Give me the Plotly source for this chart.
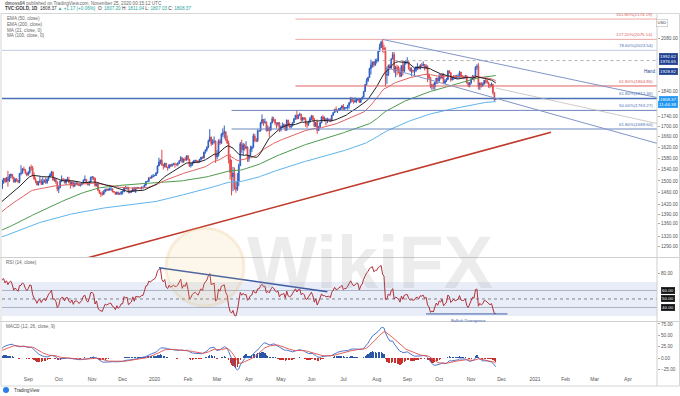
import math
import numpy as np
import pandas as pd
import plotly.graph_objects as go

# ---------------- TVC:GOLD daily data ----------------
# warm-up closes (left of the visible window, feed the indicators only)
close_2019_01 = [1284,1294,1285,1289,1286,1292,1294,1287,1290,1291,1294,1292,1292,1282,1280,1284,1281,1282,1298,1303,1312,1319,1321]
close_2019_02 = [1318,1312,1314,1306,1310,1309,1312,1316,1314,1308,1322,1327,1344,1338,1323,1328,1329,1327,1320,1313]
close_2019_03 = [1294,1286,1287,1285,1298,1298,1291,1296,1310,1308,1302,1302,1306,1306,1304,1307,1322,1314,1310,1296,1292]
close_2019_04 = [1286,1290,1292,1291,1292,1297,1303,1306,1309,1293,1289,1287,1277,1274,1275,1273,1270,1276,1280,1286,1280,1284]
close_2019_05 = [1274,1270,1279,1280,1284,1281,1285,1283,1287,1300,1297,1296,1286,1277,1277,1276,1274,1282,1284,1283,1279,1280,1305]
close_2019_06 = [1327,1324,1333,1340,1341,1328,1326,1334,1338,1341,1344,1346,1344,1360,1396,1400,1418,1409,1412,1409]
close_2019_07 = [1385,1417,1418,1416,1400,1397,1390,1419,1403,1415,1415,1409,1426,1446,1426,1424,1423,1426,1414,1419,1426,1431,1413]

# visible period: close / high / low
close_2019_08 = [1445,1440,1464,1474,1502,1509,1497,1511,1500,1517,1523,1513,1496,1507,1502,1497,1526,1527,1542,1538,1527,1520]
high_2019_08 = [1446,1449,1474,1475,1502,1509,1507,1514,1535,1524,1525,1524,1513,1508,1509,1503,1527,1555,1545,1550,1541,1530]
low_2019_08 = [1400,1432,1439,1456,1473,1490,1493,1496,1480,1496,1509,1507,1494,1495,1497,1492,1492,1519,1525,1536,1523,1516]
close_2019_09 = [1529,1547,1546,1519,1506,1499,1486,1497,1499,1488,1498,1501,1494,1506,1516,1522,1531,1504,1505,1497,1472]
high_2019_09 = [1534,1551,1557,1552,1530,1512,1500,1500,1516,1507,1512,1506,1512,1508,1517,1527,1535,1533,1511,1509,1497]
low_2019_09 = [1519,1525,1536,1515,1506,1492,1485,1484,1493,1486,1491,1493,1490,1490,1500,1512,1517,1500,1497,1490,1465]
close_2019_10 = [1478,1499,1506,1505,1494,1505,1505,1494,1489,1497,1482,1491,1492,1490,1484,1488,1492,1503,1505,1493,1488,1496,1513]
high_2019_10 = [1482,1501,1519,1510,1507,1507,1514,1514,1502,1497,1497,1495,1499,1495,1493,1492,1495,1505,1519,1506,1496,1500,1514]
low_2019_10 = [1459,1475,1496,1501,1491,1486,1498,1491,1474,1482,1477,1480,1485,1484,1482,1481,1485,1490,1500,1489,1484,1483,1494]
close_2019_11 = [1514,1510,1484,1492,1468,1459,1456,1454,1463,1471,1468,1471,1472,1472,1464,1462,1455,1462,1455,1458,1463]
high_2019_11 = [1516,1514,1511,1494,1495,1470,1463,1465,1469,1474,1474,1475,1477,1479,1475,1466,1462,1463,1463,1459,1465]
low_2019_11 = [1504,1502,1480,1481,1465,1456,1446,1450,1454,1461,1465,1466,1467,1466,1461,1460,1453,1454,1452,1454,1452]
close_2019_12 = [1463,1477,1474,1476,1460,1462,1465,1475,1466,1476,1476,1475,1475,1478,1478,1486,1498,1499,1511,1510,1515,1517]
high_2019_12 = [1468,1479,1484,1481,1480,1466,1469,1478,1480,1478,1480,1479,1478,1481,1481,1488,1499,1500,1512,1515,1520,1524]
low_2019_12 = [1454,1462,1471,1471,1458,1458,1460,1462,1463,1459,1472,1474,1472,1471,1473,1477,1483,1497,1496,1507,1508,1512]
close_2020_01 = [1519,1528,1552,1566,1573,1556,1552,1562,1548,1545,1557,1553,1557,1560,1558,1558,1562,1571,1582,1567,1577,1575,1589]
high_2020_01 = [1521,1530,1555,1582,1575,1611,1560,1564,1563,1550,1558,1557,1561,1563,1565,1561,1565,1573,1588,1583,1579,1584,1590]
low_2020_01 = [1516,1517,1525,1552,1558,1553,1540,1546,1546,1536,1543,1548,1549,1555,1546,1553,1551,1559,1569,1563,1564,1570,1571]
close_2020_02 = [1576,1553,1556,1566,1570,1572,1569,1566,1576,1584,1581,1602,1611,1620,1643,1659,1634,1641,1643,1585]
high_2020_02 = [1592,1578,1563,1568,1574,1575,1574,1572,1578,1585,1587,1604,1612,1624,1649,1689,1660,1651,1661,1646]
low_2020_02 = [1572,1549,1547,1553,1561,1566,1563,1562,1565,1572,1578,1579,1597,1605,1617,1644,1625,1629,1634,1563]
close_2020_03 = [1590,1644,1636,1669,1673,1679,1649,1636,1576,1530,1514,1527,1478,1471,1499,1553,1633,1611,1629,1617,1621,1577]
high_2020_03 = [1610,1650,1652,1674,1692,1703,1680,1665,1645,1595,1575,1549,1547,1498,1527,1561,1640,1649,1637,1634,1643,1624]
low_2020_03 = [1575,1586,1629,1633,1660,1653,1644,1633,1561,1505,1451,1465,1470,1460,1466,1482,1553,1600,1592,1608,1613,1567]
close_2020_04 = [1590,1614,1620,1663,1647,1645,1682,1682,1714,1727,1716,1717,1683,1694,1686,1713,1730,1726,1713,1708,1713,1686]
high_2020_04 = [1592,1626,1626,1672,1671,1655,1689,1684,1718,1747,1729,1731,1719,1704,1698,1717,1739,1737,1729,1716,1717,1717]
low_2020_04 = [1567,1586,1603,1617,1640,1639,1640,1680,1681,1708,1702,1710,1680,1681,1659,1681,1712,1718,1704,1692,1699,1678]
close_2020_05 = [1700,1701,1706,1685,1725,1702,1697,1702,1715,1730,1744,1731,1745,1748,1725,1734,1728,1710,1708,1719,1730]
high_2020_05 = [1702,1715,1711,1709,1726,1723,1715,1705,1717,1732,1745,1765,1746,1754,1748,1737,1737,1735,1716,1722,1737]
low_2020_05 = [1680,1695,1693,1683,1683,1700,1693,1692,1699,1712,1726,1726,1728,1741,1718,1720,1726,1698,1693,1701,1714]
close_2020_06 = [1740,1727,1700,1714,1684,1698,1714,1737,1728,1730,1725,1727,1727,1722,1744,1754,1768,1761,1763,1771,1773,1781]
high_2020_06 = [1745,1745,1733,1717,1727,1702,1718,1740,1745,1738,1733,1734,1731,1732,1745,1757,1769,1779,1767,1773,1775,1785]
low_2020_06 = [1725,1720,1697,1698,1671,1683,1694,1712,1720,1719,1704,1712,1720,1716,1721,1742,1753,1757,1753,1760,1765,1765]
close_2020_07 = [1770,1775,1775,1784,1795,1809,1803,1798,1802,1809,1809,1796,1810,1818,1842,1871,1888,1902,1941,1957,1970,1957,1975]
high_2020_07 = [1789,1776,1777,1786,1796,1818,1818,1808,1817,1812,1813,1812,1811,1820,1843,1873,1898,1904,1945,1981,1972,1975,1985]
low_2020_07 = [1764,1762,1770,1766,1771,1792,1797,1791,1796,1793,1801,1795,1796,1808,1816,1839,1866,1882,1900,1915,1945,1947,1953]
close_2020_08 = [1976,2019,2038,2062,2035,2028,1911,1915,1954,1944,1985,2004,1929,1946,1941,1929,1907,1954,1929,1964,1968]
high_2020_08 = [1986,2021,2055,2069,2075,2050,2038,1949,1959,1962,1987,2016,2015,1953,1958,1953,1946,1957,1976,1975,1979]
low_2020_08 = [1964,1971,2016,2034,2015,2012,1863,1874,1908,1935,1939,1982,1921,1903,1912,1919,1902,1905,1911,1925,1958]
close_2020_09 = [1970,1943,1930,1934,1930,1932,1946,1947,1940,1956,1954,1959,1944,1950,1912,1900,1863,1868,1862,1881,1899,1886]
high_2020_09 = [1992,1974,1948,1946,1935,1944,1952,1965,1952,1960,1966,1973,1961,1960,1955,1918,1904,1874,1876,1883,1900,1899]
low_2020_09 = [1963,1935,1927,1906,1922,1906,1925,1934,1938,1937,1948,1951,1932,1939,1882,1894,1855,1848,1851,1848,1873,1873]
close_2020_10 = [1906,1900,1913,1877,1887,1893,1931,1922,1891,1902,1908,1899,1904,1907,1924,1904,1902,1902,1908,1878,1868,1879]
high_2020_10 = [1917,1917,1919,1920,1894,1900,1933,1932,1925,1907,1911,1913,1913,1916,1931,1927,1912,1910,1913,1911,1882,1882]
low_2020_10 = [1884,1893,1895,1873,1874,1882,1890,1918,1883,1889,1891,1895,1896,1896,1900,1895,1899,1894,1897,1876,1860,1859]
close_2020_11 = [1894,1909,1904,1948,1951,1862,1877,1866,1873,1889,1888,1880,1871,1866,1871,1837,1807.20,1808.37]
high_2020_11 = [1897,1911,1910,1950,1960,1965,1880,1881,1880,1891,1900,1894,1883,1869,1880,1875,1839,1811.04]
low_2020_11 = [1872,1892,1883,1898,1935,1850,1848,1858,1861,1871,1875,1875,1857,1855,1860,1829,1800,1807.03]

ema200_seed = 1215.0   # estimated 200-EMA level at the start of 2019

# drawing-tool levels
fib_red_levels = [2174.19, 2075.14, 1864.86]
fib_red_labels = ["161.80%(2174.19)", "127.20%(2075.14)", "61.80%(1864.86)"]
fib_red_start = "2020-05-15"
fib_full_levels = [2023.54, 1812.36]
fib_full_labels = ["78.60%(2023.54)", "61.80%(1812.36)"]
fib_mar_levels = [1763.27, 1689.60]
fib_mar_labels = ["50.00%(1763.27)", "61.80%(1689.60)"]
fib_mar_start = "2020-03-16"
dotted_level = 1976.65
dotted_start = "2020-08-07"

red_trend_dates = ["2019-10-23", "2021-01-18"]
red_trend_prices = [1253, 1677]
chan_up_dates = ["2020-08-07", "2021-04-29"]
chan_up_prices = [2075, 1816]
chan_lo_dates = ["2020-08-11", "2021-04-29"]
chan_lo_prices = [1946, 1635]
faint_dates = ["2020-11-25", "2021-04-29"]
faint_prices = [1856, 1711]
rsi_trend_dates = ["2020-01-06", "2020-06-16"]
rsi_trend_vals = [86.8, 58.6]
rsi_div_dates = ["2020-09-18", "2020-12-07"]
rsi_div_vals = [32.4, 32.4]

price_ticks = [2080, 1840, 1740, 1700, 1660, 1620, 1580, 1540, 1500, 1460, 1420, 1390, 1360, 1320, 1290]
tick_months = ["2019-09","2019-10","2019-11","2019-12","2020-01","2020-02","2020-03","2020-04","2020-05","2020-06",
               "2020-07","2020-08","2020-09","2020-10","2020-11","2020-12","2021-01","2021-02","2021-03","2021-04"]
tick_labels = ["Sep","Oct","Nov","Dec","2020","Feb","Mar","Apr","May","Jun","Jul","Aug","Sep","Oct","Nov","Dec","2021","Feb","Mar","Apr"]

X_START = "2019-08-06 22:00"
X_END = "2021-04-29"

# ---------------- assemble ----------------
warm = [("2019-01", close_2019_01), ("2019-02", close_2019_02), ("2019-03", close_2019_03),
        ("2019-04", close_2019_04), ("2019-05", close_2019_05), ("2019-06", close_2019_06),
        ("2019-07", close_2019_07)]
vis = [("2019-08", close_2019_08, high_2019_08, low_2019_08),
       ("2019-09", close_2019_09, high_2019_09, low_2019_09),
       ("2019-10", close_2019_10, high_2019_10, low_2019_10),
       ("2019-11", close_2019_11, high_2019_11, low_2019_11),
       ("2019-12", close_2019_12, high_2019_12, low_2019_12),
       ("2020-01", close_2020_01, high_2020_01, low_2020_01),
       ("2020-02", close_2020_02, high_2020_02, low_2020_02),
       ("2020-03", close_2020_03, high_2020_03, low_2020_03),
       ("2020-04", close_2020_04, high_2020_04, low_2020_04),
       ("2020-05", close_2020_05, high_2020_05, low_2020_05),
       ("2020-06", close_2020_06, high_2020_06, low_2020_06),
       ("2020-07", close_2020_07, high_2020_07, low_2020_07),
       ("2020-08", close_2020_08, high_2020_08, low_2020_08),
       ("2020-09", close_2020_09, high_2020_09, low_2020_09),
       ("2020-10", close_2020_10, high_2020_10, low_2020_10),
       ("2020-11", close_2020_11, high_2020_11, low_2020_11)]


def month_days(m):
    p = pd.Period(m, freq="M")
    return pd.bdate_range(p.start_time, p.end_time.normalize())


dates, closes, highs, lows = [], [], [], []
for m, c in warm:
    d = month_days(m)
    n = min(len(d), len(c))
    dates += list(d[:n]); closes += list(c[:n]); highs += [np.nan] * n; lows += [np.nan] * n
for m, c, h, l in vis:
    d = month_days(m)
    n = min(len(d), len(c), len(h), len(l))
    dates += list(d[:n]); closes += list(c[:n]); highs += list(h[:n]); lows += list(l[:n])

idx = pd.DatetimeIndex(dates)
s = pd.Series(closes, index=idx, dtype=float)
hi = pd.Series(highs, index=idx, dtype=float)
lo = pd.Series(lows, index=idx, dtype=float)
op = s.shift(1).fillna(s.iloc[0])
hi = np.maximum(hi, np.maximum(op, s))
lo = np.minimum(lo, np.minimum(op, s))

sma21 = s.rolling(21).mean()
ema50 = s.ewm(span=50, adjust=False).mean()
sma100 = s.rolling(100).mean()
e = ema200_seed
a = 2.0 / 201.0
ev = []
for v in s.values:
    e = e + a * (v - e)
    ev.append(e)
ema200 = pd.Series(ev, index=idx)

dlt = s.diff()
up = dlt.clip(lower=0)
dn = (-dlt).clip(lower=0)
rsi = 100 - 100 / (1 + up.ewm(alpha=1 / 14, adjust=False).mean() / dn.ewm(alpha=1 / 14, adjust=False).mean())
macd = s.ewm(span=12, adjust=False).mean() - s.ewm(span=26, adjust=False).mean()
sig = macd.ewm(span=9, adjust=False).mean()
hist = macd - sig

mask = idx >= pd.Timestamp("2019-08-01")
vx = idx[mask]

UP = "#2f5fc4"
DN = "#e04848"

fig = go.Figure()
fig.add_trace(go.Candlestick(
    x=vx, open=op[mask], high=hi[mask], low=lo[mask], close=s[mask],
    increasing=dict(line=dict(color=UP, width=1), fillcolor=UP),
    decreasing=dict(line=dict(color=DN, width=1), fillcolor=DN),
    whiskerwidth=0, hoverinfo="skip", xaxis="x", yaxis="y"))


def line(x, y, color, width=1.0, dash=None, xa="x", ya="y"):
    fig.add_trace(go.Scatter(x=x, y=y, mode="lines", line=dict(color=color, width=width, dash=dash),
                             hoverinfo="skip", xaxis=xa, yaxis=ya))


line(vx, ema200[mask], "#5fb4ee", 1)
line(vx, sma100[mask], "#4e9a4e", 1)
line(vx, ema50[mask], "#e06363", 1)
line(vx, sma21[mask], "#222222", 1)

# drawing tools in price pane
for lv in fib_red_levels:
    line([fib_red_start, X_END], [lv, lv], "rgba(224,96,96,0.55)" if lv > 2000 else "#e06060", 1)
for lv in fib_full_levels:
    line([X_START, X_END], [lv, lv], "#c3cbe0" if lv > 2000 else "#4a6fb5", 1 if lv > 2000 else 1.6)
for lv in fib_mar_levels:
    line([fib_mar_start, X_END], [lv, lv], "#6d86bf", 1)
line([dotted_start, X_END], [dotted_level, dotted_level], "#9a9a9a", 0.8, "dot")
line(red_trend_dates, red_trend_prices, "#c0392b", 1.6)
line(chan_up_dates, chan_up_prices, "#8195c8", 1)
line(chan_lo_dates, chan_lo_prices, "#8195c8", 1)
line(faint_dates, faint_prices, "rgba(190,180,175,0.7)", 1)

# RSI pane
line(vx, rsi[mask], "#b0303a", 1, xa="x2", ya="y2")
line(rsi_trend_dates, rsi_trend_vals, "#3b5ba5", 1.5, xa="x2", ya="y2")
line(rsi_div_dates, rsi_div_vals, "#3b5ba5", 1, xa="x2", ya="y2")

# MACD pane
hv = hist[mask]
fig.add_trace(go.Bar(x=vx, y=hv, marker=dict(color=["#2b56a6" if v >= 0 else "#c9302c" for v in hv], line=dict(width=0)),
                     width=0.8 * 86400000, hoverinfo="skip", xaxis="x3", yaxis="y3"))
line(vx, macd[mask], "#3a66c9", 0.9, xa="x3", ya="y3")
line(vx, sig[mask], "#e0504c", 0.9, xa="x3", ya="y3")

# ---------------- layout ----------------
def pyp(py):
    return (375.0 - py) / 361.0


def pxp(px):
    return (px - 2.0) / 655.0


P_LO, P_HI = 1259.8, 2199.6
rb = [dict(bounds=["sat", "mon"])]
ax_common = dict(range=[X_START, X_END], rangebreaks=rb, showgrid=False, zeroline=False, type="date", showline=False)
tickvals_x = [month_days(m)[0] for m in tick_months]
TF = dict(size=4.7, color="#555555")

fig.update_layout(
    width=680, height=396, margin=dict(l=2, r=23, t=14, b=21),
    paper_bgcolor="white", plot_bgcolor="white", showlegend=False, bargap=0,
    font=dict(family="Liberation Sans, Arial, sans-serif", size=5, color="#555555"),
    xaxis=dict(domain=[0, 1], anchor="y", showticklabels=False, rangeslider=dict(visible=False), **ax_common),
    xaxis2=dict(domain=[0, 1], anchor="y2", showticklabels=False, matches="x", **ax_common),
    xaxis3=dict(domain=[0, 1], anchor="y3", matches="x", tickmode="array", tickvals=tickvals_x, ticktext=tick_labels,
                tickfont=dict(size=5, color="#555555"), ticks="", **ax_common),
    yaxis=dict(domain=[pyp(257), 1], type="log", range=[math.log10(P_LO), math.log10(P_HI)], side="right",
               tickmode="array", tickvals=price_ticks, ticktext=[f"{v:.2f}" for v in price_ticks],
               tickfont=TF, ticks="outside", ticklen=2, tickcolor="#aaaaaa",
               showgrid=False, zeroline=False),
    yaxis2=dict(domain=[pyp(321), pyp(258)], range=[24.1, 98.2], side="right", tickmode="array", tickvals=[80],
                ticktext=["80.00"], tickfont=TF, ticks="outside", ticklen=2,
                tickcolor="#aaaaaa", showgrid=False, zeroline=False),
    yaxis3=dict(domain=[0, pyp(322)], range=[-37.5, 79.4], side="right", tickmode="array",
                tickvals=[75, 50, 25, 0, -25], ticktext=["75.00", "50.00", "25.00", "0.00", "\u221225.00"],
                tickfont=TF, ticks="outside", ticklen=2, tickcolor="#aaaaaa",
                showgrid=False, zeroline=False),
)

shapes = []
# RSI band and levels
shapes.append(dict(type="rect", xref="paper", x0=0, x1=1, yref="y2", y0=30, y1=70, fillcolor="rgba(120,140,210,0.16)",
                   line=dict(width=0), layer="below"))
for lv, dash, col in [(60, "solid", "#9aa3b5"), (40, "solid", "#9aa3b5"), (50, "dot", "#666666")]:
    shapes.append(dict(type="line", xref="paper", x0=0, x1=1, yref="y2", y0=lv, y1=lv,
                       line=dict(color=col, width=0.8, dash=dash), layer="below"))
# pane separators and frame
for py in (257.5, 321.5):
    shapes.append(dict(type="line", xref="paper", yref="paper", x0=pxp(0), x1=pxp(680), y0=pyp(py), y1=pyp(py),
                       line=dict(color="#cfcfcf", width=1)))
shapes.append(dict(type="line", xref="paper", yref="paper", x0=1, x1=1, y0=pyp(13.5), y1=pyp(386),
                   line=dict(color="#cfcfcf", width=1)))
shapes.append(dict(type="rect", xref="paper", yref="paper", x0=pxp(1), x1=pxp(679.5), y0=pyp(13.5), y1=pyp(386),
                   line=dict(color="#d6d6d6", width=1)))
# watermark logo
shapes.append(dict(type="circle", xref="paper", yref="paper", x0=pxp(166), x1=pxp(244), y0=pyp(228), y1=pyp(306),
                   fillcolor="rgba(240,190,100,0.13)", line=dict(color="rgba(220,170,90,0.18)", width=3)))
# TradingView logo mark
shapes.append(dict(type="circle", xref="paper", yref="paper", x0=pxp(3), x1=pxp(9), y0=pyp(387), y1=pyp(393),
                   fillcolor="#2b7de9", line=dict(width=0)))
fig.update_layout(shapes=shapes)

ann = []


def txt(x, y, t, size=5, color="#555555", xanchor="left", yanchor="middle", xref="paper", yref="paper", **kw):
    ann.append(dict(x=x, y=y, xref=xref, yref=yref, text=t, showarrow=False, xanchor=xanchor, yanchor=yanchor,
                    font=dict(size=size, color=color), **kw))


G = "#26a69a"
txt(pxp(3), pyp(3.2), "<b>dmoss04</b> published on TradingView.com, November 25, 2020 00:15:12 UTC", 4.6, "#666666")
txt(pxp(3), pyp(9), "<b>TVC:GOLD, 1D</b>  1808.37 <span style='color:%s'>\u25b2 +1.17 (+0.06%%)</span>  "
    "O: <span style='color:%s'>1807.20</span> H: <span style='color:%s'>1811.04</span> "
    "L: <span style='color:%s'>1807.03</span> C: <span style='color:%s'>1808.37</span>" % (G, G, G, G, G),
    4.6, "#333333")
for i, t in enumerate(["EMA (50, close)", "EMA (200, close)", "MA (21, close, 0)", "MA (100, close, 0)"]):
    txt(pxp(5), pyp(19 + 5.5 * i), t, 4.6, "#666666")
txt(pxp(4), pyp(262.5), "RSI (14, close)", 4.6, "#666666")
txt(pxp(4), pyp(326), "MACD (12, 26, close, 9)", 4.6, "#666666")
txt(pxp(12), pyp(390), "TradingView", 4.6, "#333333")

# fib labels
for lv, lb in zip(fib_red_levels, fib_red_labels):
    txt(pxp(655), math.log10(lv), lb, 4.4, "#d9605c", "right", "bottom", yref="y", yshift=0)
for lv, lb in zip(fib_full_levels + fib_mar_levels, fib_full_labels + fib_mar_labels):
    txt(pxp(655), math.log10(lv), lb, 4.4, "#4a6fb5", "right", "bottom", yref="y", yshift=0)

# right axis boxes
def box(val, t, bg, fg="white", yref="y", yshift=0, border=None):
    yy = math.log10(val) if yref == "y" else val
    ann.append(dict(x=pxp(668.5), y=yy, xref="paper", yref=yref, text=t, showarrow=False, xanchor="center",
                    yanchor="middle", font=dict(size=4.4, color=fg), bgcolor=bg, borderpad=0.6, yshift=yshift,
                    bordercolor=border or bg, borderwidth=0.5))


box(1992.62, "1992.62", "#1f3f91", yshift=1)
box(1976.65, "1976.65", "#1f3f91", yshift=-1)
box(1928.82, "1928.82", "#1f3f91")
box(1808.37, "1808.37", "#2196f3")
box(1808.37, "11:44:38", "#2196f3", yshift=-5.2)
txt(pxp(656.5), math.log10(1928.82), "Hand", 4.6, "#1f3f91", "right", yref="y")
box(60, "60.00", "#111111", yref="y2")
box(50, "50.00", "#111111", yref="y2")
box(40, "40.00", "#111111", yref="y2")
ann.append(dict(x=pxp(668.5), y=pyp(19), xref="paper", yref="paper", text="USD", showarrow=False,
                font=dict(size=4.2, color="#444444"), bgcolor="white", bordercolor="#bbbbbb", borderwidth=0.6,
                borderpad=0.8))
txt(pxp(468), 29.5, "Bullish Divergence", 4.2, "#3b5ba5", "center", "top", xref="paper", yref="y2")

# watermark
ann.append(dict(x=pxp(370), y=pyp(262), xref="paper", yref="paper", text="<b>WikiFX</b>", showarrow=False,
                xanchor="center", yanchor="middle", font=dict(size=74, color="rgba(150,140,140,0.17)")))

fig.update_layout(annotations=ann)
fig.write_html("out.html", config={"displayModeBar": False, "staticPlot": True},
               post_script="document.body.style.margin='0px';document.body.style.padding='0px';")
